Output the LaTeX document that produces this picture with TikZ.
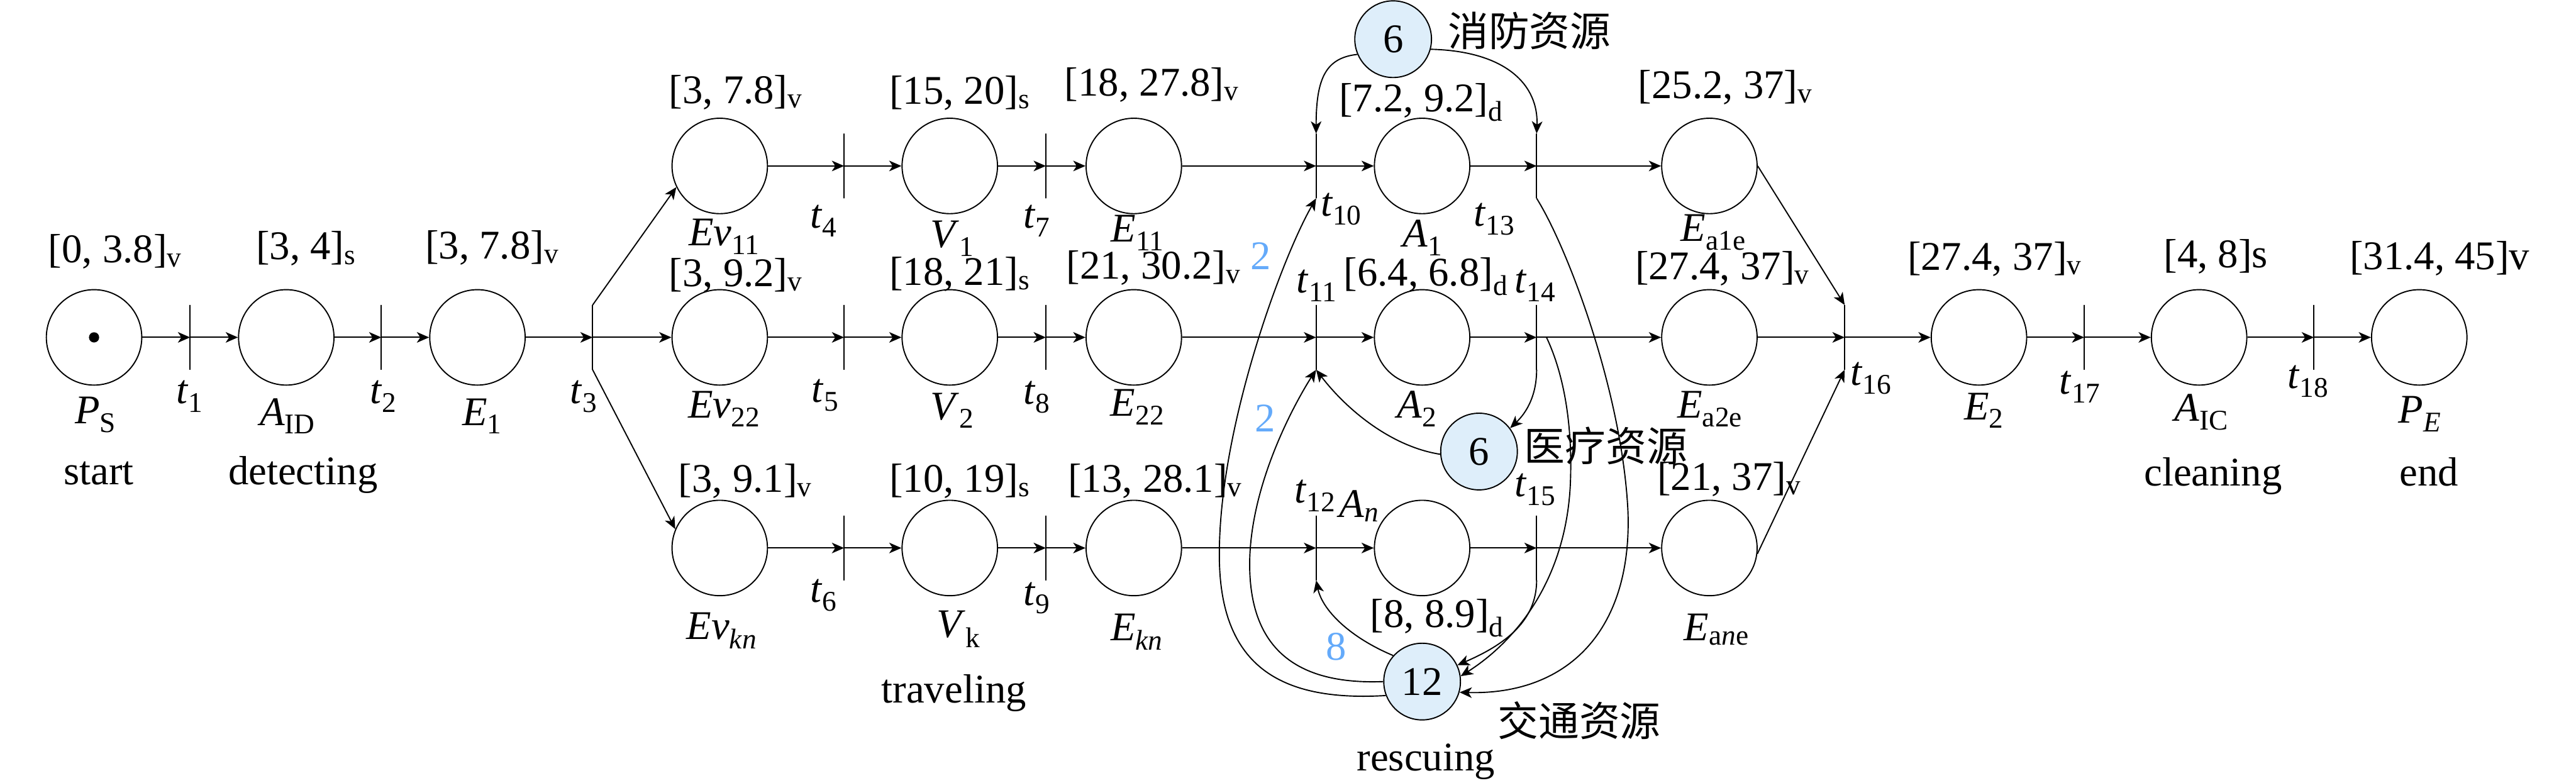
\documentclass[tikz,border=0pt]{standalone}
\usepackage{fontspec}
\setmainfont{Liberation Serif}
\newfontfamily\cjk{Noto Sans CJK SC}
\usetikzlibrary{arrows.meta}
\definecolor{resfill}{RGB}{222,238,250}
\definecolor{wblue}{RGB}{100,170,250}
\newcommand{\lbl}{\fontsize{34}{40}\selectfont}
\newcommand{\sbs}[1]{\textsubscript{#1}}
\begin{document}
\begin{tikzpicture}[
  place/.style={circle, draw, line width=1pt, minimum size=2.8cm, inner sep=0pt},
  res/.style={circle, draw, line width=1pt, fill=resfill, minimum size=2.25cm, inner sep=0pt, font=\lbl},
  tbar/.style={rectangle, draw, line width=1pt, minimum width=0pt, minimum height=1.9cm, inner sep=0pt, outer sep=0pt},
  arr/.style={-{Stealth[length=0.36cm,width=0.31cm,inset=0.1cm]}, line width=1pt},
  lab/.style={inner sep=0pt, font=\lbl},
  ival/.style={lab, anchor=base},
  wt/.style={lab, text=wblue},
  cjkl/.style={inner sep=0pt, font=\lbl\cjk},
]
\useasboundingbox (0,0) rectangle (75.59,-22.96);
\def\yT{-4.87}\def\yM{-9.90}\def\yB{-16.08}

% places
\node[place] (PS) at (2.76,\yM) {};
\node[circle, fill, minimum size=0.3cm, inner sep=0pt] (tok) at (2.76,\yM) {};
\node[place] (AID) at (8.40,\yM) {};
\node[place] (E1) at (14.01,\yM) {};
\node[place] (Ev11) at (21.12,\yT) {};
\node[place] (Ev22) at (21.12,\yM) {};
\node[place] (Evkn) at (21.12,\yB) {};
\node[place] (V1) at (27.87,\yT) {};
\node[place] (V2) at (27.87,\yM) {};
\node[place] (Vk) at (27.87,\yB) {};
\node[place] (E11) at (33.27,\yT) {};
\node[place] (E22) at (33.27,\yM) {};
\node[place] (Ekn) at (33.27,\yB) {};
\node[place] (A1) at (41.73,\yT) {};
\node[place] (A2) at (41.73,\yM) {};
\node[place] (An) at (41.73,\yB) {};
\node[place] (Ea1) at (50.16,\yT) {};
\node[place] (Ea2) at (50.16,\yM) {};
\node[place] (Ean) at (50.16,\yB) {};
\node[place] (E2) at (58.07,\yM) {};
\node[place] (AIC) at (64.53,\yM) {};
\node[place] (PE) at (70.99,\yM) {};

% resources
\node[res] (fire) at (40.88,-1.15) {6};
\node[res] (med) at (43.40,-13.25) {6};
\node[res] (traf) at (41.73,-20.00) {12};

% transitions
\node[tbar] (t1) at (5.58,\yM) {};
\node[tbar] (t2) at (11.19,\yM) {};
\node[tbar] (t3) at (17.39,\yM) {};
\node[tbar] (t4) at (24.77,\yT) {};
\node[tbar] (t5) at (24.77,\yM) {};
\node[tbar] (t6) at (24.77,\yB) {};
\node[tbar] (t7) at (30.69,\yT) {};
\node[tbar] (t8) at (30.69,\yM) {};
\node[tbar] (t9) at (30.69,\yB) {};
\node[tbar] (t10) at (38.62,\yT) {};
\node[tbar] (t11) at (38.62,\yM) {};
\node[tbar] (t12) at (38.62,\yB) {};
\node[tbar] (t13) at (45.09,\yT) {};
\node[tbar] (t14) at (45.09,\yM) {};
\node[tbar] (t15) at (45.09,\yB) {};
\node[tbar] (t16) at (54.13,\yM) {};
\node[tbar] (t17) at (61.16,\yM) {};
\node[tbar] (t18) at (67.90,\yM) {};
\coordinate (t14r) at (45.38,\yM);

% straight connectors
\draw[arr] (PS) -- (t1.center);
\draw[arr] (t1.center) -- (AID);
\draw[arr] (AID) -- (t2.center);
\draw[arr] (t2.center) -- (E1);
\draw[arr] (E1) -- (t3.center);
\draw[arr] (t3.north) -- (Ev11.206);
\draw[arr] (t3.center) -- (Ev22);
\draw[arr] (t3.south) -- (Evkn.157);
\draw[arr] (Ev11) -- (t4.center);
\draw[arr] (t4.center) -- (V1);
\draw[arr] (V1) -- (t7.center);
\draw[arr] (t7.center) -- (E11);
\draw[arr] (Ev22) -- (t5.center);
\draw[arr] (t5.center) -- (V2);
\draw[arr] (V2) -- (t8.center);
\draw[arr] (t8.center) -- (E22);
\draw[arr] (Evkn) -- (t6.center);
\draw[arr] (t6.center) -- (Vk);
\draw[arr] (Vk) -- (t9.center);
\draw[arr] (t9.center) -- (Ekn);
\draw[arr] (E11) -- (t10.center);
\draw[arr] (t10.center) -- (A1);
\draw[arr] (A1) -- (t13.center);
\draw[arr] (t13.center) -- (Ea1);
\draw[arr] (E22) -- (t11.center);
\draw[arr] (t11.center) -- (A2);
\draw[arr] (A2) -- (t14.center);
\draw[arr] (t14.center) -- (Ea2);
\draw[arr] (Ekn) -- (t12.center);
\draw[arr] (t12.center) -- (An);
\draw[arr] (An) -- (t15.center);
\draw[arr] (t15.center) -- (Ean);
\draw[arr] (Ea1.east) -- (t16.north);
\draw[arr] (Ea2) -- (t16.center);
\draw[arr] (Ean.-7) -- (t16.south);
\draw[arr] (t16.center) -- (E2);
\draw[arr] (E2) -- (t17.center);
\draw[arr] (t17.center) -- (AIC);
\draw[arr] (AIC) -- (t18.center);
\draw[arr] (t18.center) -- (PE);

% resource arcs
\draw[arr] (fire.203) .. controls (38.90,-1.70) and (38.62,-2.30) .. (t10.north);
\draw[arr] (fire.345) .. controls (44.20,-1.50) and (45.15,-2.50) .. (t13.north);
\draw[arr] (t13.south) .. controls (46.00,-7.27) and (47.60,-11.50) .. (47.77,-15.00)
   .. controls (47.90,-18.50) and (46.00,-20.40) .. (traf.344);
\draw[arr] (t14r) .. controls (45.90,-11.00) and (46.15,-12.50) .. (46.08,-14.20)
   .. controls (45.95,-17.00) and (44.50,-18.80) .. (traf.8);
\draw[arr] (t15.south) .. controls (45.09,-18.20) and (44.20,-18.90) .. (traf.25);
\draw[arr] (t14.south) .. controls (45.09,-11.60) and (44.80,-12.10) .. (med.37);
\draw[arr] (med.184) .. controls (40.80,-13.10) and (39.50,-12.00) .. (t11.south);
\draw[arr] (traf.138) .. controls (39.60,-18.70) and (38.80,-17.90) .. (t12.south);
\draw[arr] (traf.180) .. controls (38.00,-20.10) and (36.65,-19.00) .. (36.67,-16.50)
   .. controls (36.70,-14.00) and (38.20,-11.50) .. (t11.south);
\draw[arr] (traf.201) .. controls (37.50,-20.60) and (35.75,-19.50) .. (35.78,-16.20)
   .. controls (35.80,-12.50) and (37.60,-7.60) .. (t10.south);

% interval labels
\node[ival] (iPS) at (3.38,-7.71) {[0, 3.8]\sbs{v}};
\node[ival] (iAID) at (8.98,-7.62) {[3, 4]\sbs{s}};
\node[ival] (iE1) at (14.44,-7.59) {[3, 7.8]\sbs{v}};
\node[ival] (iEv11) at (21.59,-3.04) {[3, 7.8]\sbs{v}};
\node[ival] (iV1) at (28.16,-3.06) {[15, 20]\sbs{s}};
\node[ival] (iE11) at (33.80,-2.81) {[18, 27.8]\sbs{v}};
\node[ival] (iEv22) at (21.59,-8.40) {[3, 9.2]\sbs{v}};
\node[ival] (iV2) at (28.16,-8.37) {[18, 21]\sbs{s}};
\node[ival] (iE22) at (33.85,-8.19) {[21, 30.2]\sbs{v}};
\node[ival] (iEvkn) at (21.87,-14.44) {[3, 9.1]\sbs{v}};
\node[ival] (iVk) at (28.16,-14.44) {[10, 19]\sbs{s}};
\node[ival] (iEkn) at (33.90,-14.44) {[13, 28.1]\sbs{v}};
\node[ival] (iA1) at (41.70,-3.27) {[7.2, 9.2]\sbs{d}};
\node[ival] (iA2) at (41.84,-8.38) {[6.4, 6.8]\sbs{d}};
\node[ival] (iAn) at (42.17,-18.41) {[8, 8.9]\sbs{d}};
\node[ival] (iEa1) at (50.63,-2.88) {[25.2, 37]\sbs{v}};
\node[ival] (iEa2) at (50.54,-8.21) {[27.4, 37]\sbs{v}};
\node[ival] (iEan) at (50.74,-14.38) {[21, 37]\sbs{v}};
\node[ival] (iE2) at (58.53,-7.93) {[27.4, 37]\sbs{v}};
\node[ival] (iAIC) at (65.02,-7.86) {[4, 8]s};
\node[ival] (iPE) at (71.59,-7.91) {[31.4, 45]v};

% place names
\node[lab] (nPS) at (2.81,-12.17) {\textit{P}\sbs{S}};
\node[lab] (nAID) at (8.44,-12.21) {\textit{A}\sbs{ID}};
\node[lab] (nE1) at (14.15,-12.21) {\textit{E}\sbs{1}};
\node[lab] (nEv11) at (21.25,-6.95) {\textit{Ev}\sbs{11}};
\node[lab] (nV1) at (27.95,-7.00) {\textit{V}\sbs{1}};
\node[lab] (nE11) at (33.38,-6.83) {\textit{E}\sbs{11}};
\node[lab] (nEv22) at (21.25,-12.00) {\textit{Ev}\sbs{22}};
\node[lab] (nV2) at (27.95,-12.05) {\textit{V}\sbs{2}};
\node[lab] (nE22) at (33.38,-11.95) {\textit{E}\sbs{22}};
\node[lab] (nEvkn) at (21.18,-18.50) {\textit{Ev}\sbs{\textit{kn}}};
\node[lab] (nVk) at (28.13,-18.46) {\textit{V}\sbs{k}};
\node[lab] (nEkn) at (33.36,-18.55) {\textit{E}\sbs{\textit{kn}}};
\node[lab] (nA1) at (41.75,-6.98) {\textit{A}\sbs{1}};
\node[lab] (nA2) at (41.58,-12.00) {\textit{A}\sbs{2}};
\node[lab] (nAn) at (39.88,-14.85) {\textit{A}\sbs{\textit{n}}};
\node[lab] (nEa1) at (50.28,-6.82) {\textit{E}\sbs{a1e}};
\node[lab] (nEa2) at (50.18,-12.00) {\textit{E}\sbs{a2e}};
\node[lab] (nEan) at (50.37,-18.48) {\textit{E}\sbs{a\textit{n}e}};
\node[lab] (nE2) at (58.22,-12.05) {\textit{E}\sbs{2}};
\node[lab] (nAIC) at (64.60,-12.10) {\textit{A}\sbs{IC}};
\node[lab] (nPE) at (71.01,-12.15) {\textit{P}\sbs{\textit{E}}};

% transition names
\node[lab] (lt1) at (5.57,-11.63) {\textit{t}\sbs{1}};
\node[lab] (lt2) at (11.25,-11.63) {\textit{t}\sbs{2}};
\node[lab] (lt3) at (17.13,-11.63) {\textit{t}\sbs{3}};
\node[lab] (lt4) at (24.17,-6.48) {\textit{t}\sbs{4}};
\node[lab] (lt5) at (24.22,-11.60) {\textit{t}\sbs{5}};
\node[lab] (lt6) at (24.17,-17.47) {\textit{t}\sbs{6}};
\node[lab] (lt7) at (30.43,-6.48) {\textit{t}\sbs{7}};
\node[lab] (lt8) at (30.43,-11.65) {\textit{t}\sbs{8}};
\node[lab] (lt9) at (30.43,-17.55) {\textit{t}\sbs{9}};
\node[lab] (lt10) at (39.36,-6.14) {\textit{t}\sbs{10}};
\node[lab] (lt11) at (38.64,-8.38) {\textit{t}\sbs{11}};
\node[lab] (lt12) at (38.59,-14.55) {\textit{t}\sbs{12}};
\node[lab] (lt13) at (43.85,-6.43) {\textit{t}\sbs{13}};
\node[lab] (lt14) at (45.05,-8.38) {\textit{t}\sbs{14}};
\node[lab] (lt15) at (45.05,-14.37) {\textit{t}\sbs{15}};
\node[lab] (lt16) at (54.90,-11.10) {\textit{t}\sbs{16}};
\node[lab] (lt17) at (61.04,-11.35) {\textit{t}\sbs{17}};
\node[lab] (lt18) at (67.73,-11.20) {\textit{t}\sbs{18}};

% words
\node[lab, anchor=base] (wstart) at (2.90,-14.22) {start};
\node[lab, anchor=base] (wdet) at (8.89,-14.22) {detecting};
\node[lab, anchor=base] (wtrav) at (27.99,-20.62) {traveling};
\node[lab, anchor=base] (wres) at (41.84,-22.62) {rescuing};
\node[lab, anchor=base] (wclean) at (64.94,-14.25) {cleaning};
\node[lab, anchor=base] (wend) at (71.28,-14.25) {end};

% resource names
\node[cjkl] (fireL) at (44.88,-0.90) {消防资源};
\node[cjkl] (medL) at (47.12,-13.08) {医疗资源};
\node[cjkl] (trafL) at (46.34,-21.15) {交通资源};

% weights
\node[wt] (w1) at (37.00,-7.51) {2};
\node[wt] (w2) at (37.13,-12.28) {2};
\node[wt] (w3) at (39.21,-18.97) {8};
\end{tikzpicture}
\end{document}
